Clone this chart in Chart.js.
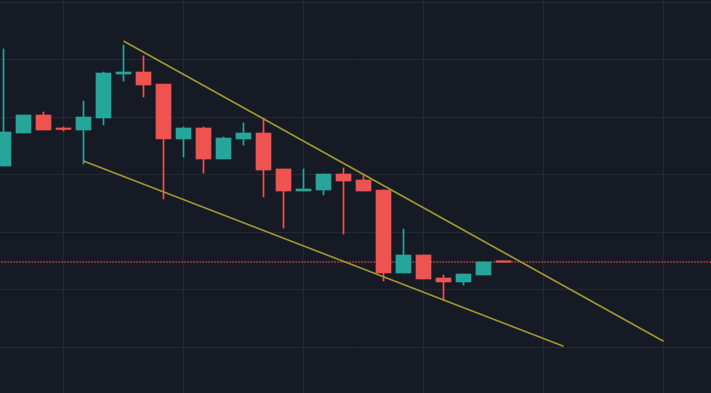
<!DOCTYPE html>
<html>
<head>
<meta charset="utf-8">
<script src="https://cdn.jsdelivr.net/npm/chart.js@4/dist/chart.umd.min.js"></script>
<style>
  html, body { margin: 0; padding: 0; background: #161a25; }
  #wrap { width: 711px; height: 393px; }
</style>
</head>
<body>
<div id="wrap"><canvas id="chart"></canvas></div>
<script>
// Candle data (index = bar number)
const opens  = [71.53, 77.27, 80.40, 78.05, 77.79, 79.88, 87.53, 87.88, 85.79, 76.23, 78.14, 72.75, 76.23,
                77.27, 71.01, 67.18, 67.36, 70.14, 69.10, 67.36, 52.92, 56.05, 52.05, 51.36, 52.57, 54.87];
const highs  = [91.88, 80.40, 80.92, 78.31, 82.83, 87.88, 92.57, 90.66, 85.79, 78.31, 78.31, 76.57, 79.01,
                79.88, 71.01, 71.01, 70.14, 71.18, 70.14, 67.36, 60.57, 56.05, 52.57, 52.75, 54.83, 54.87];
const lows   = [71.53, 77.27, 77.79, 77.62, 71.88, 78.66, 86.31, 83.53, 65.79, 73.10, 70.31, 72.75, 75.18,
                66.14, 60.75, 67.18, 66.49, 59.70, 67.18, 51.53, 52.92, 51.88, 48.23, 50.83, 52.57, 54.79];
const closes = [77.44, 80.40, 77.79, 77.88, 80.05, 87.70, 87.88, 85.62, 76.23, 78.14, 72.75, 76.40, 77.27,
                70.83, 67.18, 67.53, 70.14, 68.92, 67.18, 52.92, 56.05, 51.88, 51.36, 52.75, 54.83, 54.79];

// Trend lines [bar index, price]
const upperTrend = [[6, 93.27], [33, 41.04]];
const lowerTrend = [[4, 72.40], [28, 40.17]];
const lastPrice = 54.83;

const priceTicks = [40, 50, 60, 70, 80, 90, 100];
const timeTicks = [3, 9, 15, 21, 27, 33];

const up = '#26a69a';
const down = '#ef5350';
const colorOf = i => closes[i] >= opens[i] ? up : down;

const bodies = opens.map((o, i) => ({ x: i, y: [o, closes[i]] }));
const wicks = opens.map((o, i) => ({ x: i, y: [lows[i], highs[i]] }));
const candleColors = opens.map((o, i) => colorOf(i));

new Chart(document.getElementById('chart'), {
    data: {
        datasets: [
            {
                type: 'line',
                data: upperTrend.map(p => ({ x: p[0], y: p[1] })),
                borderColor: '#a0982f',
                borderWidth: 1.6,
                pointRadius: 0,
                order: 0
            },
            {
                type: 'line',
                data: lowerTrend.map(p => ({ x: p[0], y: p[1] })),
                borderColor: '#a0982f',
                borderWidth: 1.6,
                pointRadius: 0,
                order: 0
            },
            {
                // last price line
                type: 'line',
                data: [{ x: -1, y: lastPrice }, { x: 36, y: lastPrice }],
                borderColor: down,
                borderWidth: 1.4,
                borderDash: [1.2, 1.8],
                pointRadius: 0,
                order: 3
            },
            {
                type: 'bar',
                data: wicks,
                backgroundColor: candleColors,
                barThickness: 1,
                grouped: false,
                order: 2
            },
            {
                type: 'bar',
                data: bodies,
                backgroundColor: candleColors,
                barThickness: 15,
                minBarLength: 1.5,
                grouped: false,
                order: 1
            }
        ]
    },
    options: {
        responsive: true,
        maintainAspectRatio: false,
        animation: false,
        layout: { padding: 0 },
        plugins: { legend: { display: false }, tooltip: { enabled: false } },
        scales: {
            x: {
                type: 'linear',
                min: -0.175,
                max: 35.375,
                offset: false,
                afterBuildTicks: s => { s.ticks = timeTicks.map(v => ({ value: v })); },
                ticks: { display: false },
                grid: { color: '#252936', drawTicks: false, offset: false },
                border: { display: false }
            },
            y: {
                min: 32.05,
                max: 100.4,
                afterBuildTicks: s => { s.ticks = priceTicks.map(v => ({ value: v })); },
                ticks: { display: false },
                grid: { color: '#252936', drawTicks: false },
                border: { display: false }
            }
        }
    }
});
</script>
</body>
</html>
